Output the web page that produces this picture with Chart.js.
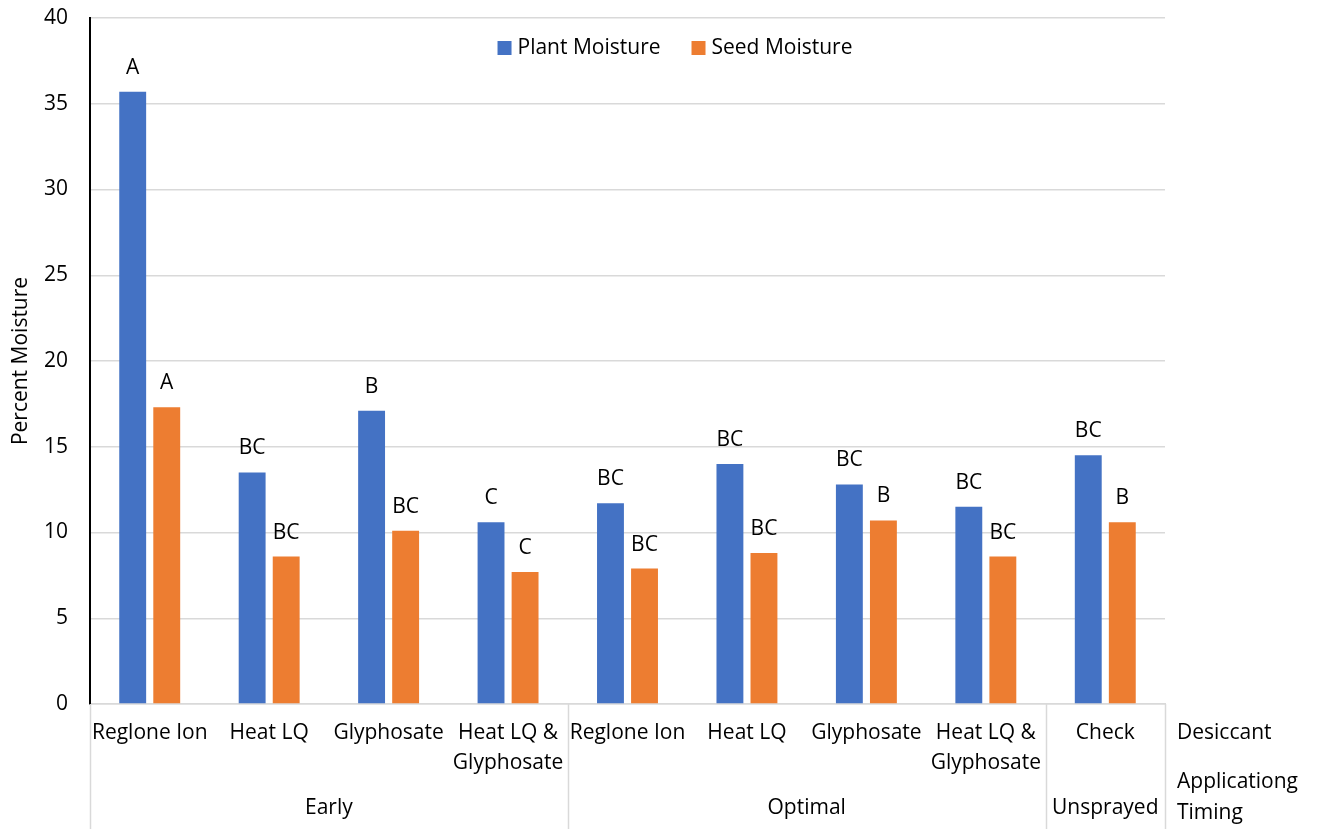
<!DOCTYPE html>
<html>
<head>
<meta charset="utf-8">
<script src="https://cdn.jsdelivr.net/npm/chart.js@4.4.0/dist/chart.umd.min.js"></script>
<style>
  html, body { margin: 0; padding: 0; background: #fff; }
  #wrap { width: 1323px; height: 829px; }
</style>
</head>
<body>
<div id="wrap"><canvas id="myChart"></canvas></div>
<script>
// desiccant (first level category), multi-line labels
const desiccants = [
  ['Reglone Ion'], ['Heat LQ'], ['Glyphosate'], ['Heat LQ &', 'Glyphosate'],
  ['Reglone Ion'], ['Heat LQ'], ['Glyphosate'], ['Heat LQ &', 'Glyphosate'],
  ['Check']
];
// application timing (second level)
const timings = ['Early', 'Optimal', 'Unsprayed'];
const timingSpans = [4, 4, 1];
const levelNames = [['Desiccant'], ['Applicationg', 'Timing']];

const plantMoisture = [35.7, 13.5, 17.1, 10.6, 11.7, 14.0, 12.8, 11.5, 14.5];
const seedMoisture  = [17.3, 8.6, 10.1, 7.7, 7.9, 8.8, 10.7, 8.6, 10.6];
const plantLetters = ['A', 'BC', 'B', 'C', 'BC', 'BC', 'BC', 'BC', 'BC'];
const seedLetters  = ['A', 'BC', 'BC', 'C', 'BC', 'BC', 'B', 'BC', 'B'];

const FONT = '"Open Sans", sans-serif';
const ctx = document.getElementById('myChart');

const extras = {
  id: 'extras',
  afterDraw(chart) {
    const c = chart.ctx;
    const area = chart.chartArea;
    const xs = chart.scales.x;
    c.save();
    c.font = '21px ' + FONT;
    c.fillStyle = '#000';
    c.textAlign = 'center';
    c.textBaseline = 'alphabetic';

    // letters above bars
    const letterSets = [plantLetters, seedLetters];
    letterSets.forEach((letters, d) => {
      chart.getDatasetMeta(d).data.forEach((bar, i) => {
        c.fillText(letters[i], bar.x, bar.y - 18);
      });
    });

    // desiccant labels
    c.textBaseline = 'middle';
    desiccants.forEach((lines, i) => {
      const x = xs.getPixelForValue(i);
      lines.forEach((t, k) => c.fillText(t, x, 733 + k * 30));
    });

    // group separators + timing labels
    const bounds = [area.left];
    let idx = 0;
    timingSpans.forEach(n => {
      idx += n;
      if (idx < desiccants.length) {
        bounds.push((xs.getPixelForValue(idx - 1) + xs.getPixelForValue(idx)) / 2);
      } else {
        bounds.push(area.right);
      }
    });
    c.strokeStyle = '#d9d9d9';
    c.lineWidth = 1.5;
    bounds.forEach(b => {
      c.beginPath();
      c.moveTo(Math.round(b) + 0.5, area.bottom);
      c.lineTo(Math.round(b) + 0.5, chart.height);
      c.stroke();
    });
    timings.forEach((t, g) => {
      c.fillText(t, (bounds[g] + bounds[g + 1]) / 2, 808);
    });

    // level names at right
    c.textAlign = 'left';
    c.fillText(levelNames[0][0], area.right + 12, 733);
    levelNames[1].forEach((t, k) => c.fillText(t, area.right + 12, 782 + k * 31));

    // legend
    const boxSize = 14;
    const items = chart.data.datasets.map(ds => ({
      label: ds.label, color: ds.backgroundColor, w: c.measureText(ds.label).width
    }));
    const gapBox = 6, gapItem = 31;
    let total = 0;
    items.forEach((it, k) => { total += boxSize + gapBox + it.w + (k ? gapItem : 0); });
    let x = 675 - total / 2;
    const ly = 48;
    items.forEach(it => {
      c.fillStyle = it.color;
      c.fillRect(x, ly - boxSize / 2, boxSize, boxSize);
      c.fillStyle = '#000';
      c.fillText(it.label, x + boxSize + gapBox, ly);
      x += boxSize + gapBox + it.w + gapItem;
    });
    c.restore();
  }
};

new Chart(ctx, {
  type: 'bar',
  data: {
    labels: desiccants.map(l => l.join(' ')),
    datasets: [
      { label: 'Plant Moisture', data: plantMoisture, backgroundColor: '#4472C4' },
      { label: 'Seed Moisture', data: seedMoisture, backgroundColor: '#ED7D31' }
    ]
  },
  options: {
    responsive: true,
    maintainAspectRatio: false,
    animation: false,
    layout: { padding: { top: 18, right: 158, bottom: 117, left: 0 } },
    datasets: { bar: { categoryPercentage: 0.57, barPercentage: 0.79 } },
    plugins: { legend: { display: false }, tooltip: { enabled: false } },
    scales: {
      x: {
        ticks: { display: false },
        grid: { display: false },
        border: { color: '#d9d9d9', width: 1.5 }
      },
      y: {
        min: 0, max: 40,
        ticks: { stepSize: 5, padding: 22, color: '#000', font: { family: FONT, size: 21 } },
        grid: { color: '#d9d9d9', lineWidth: 1.5, drawTicks: false },
        border: { color: '#000', width: 2 },
        title: {
          display: true, text: 'Percent Moisture', color: '#000',
          font: { family: FONT, size: 21 }, padding: { top: 8, bottom: 0 }
        },
        afterFit(scale) {
          scale.width = 90;
          scale.paddingTop = 0;
          scale.paddingBottom = 0;
        }
      }
    }
  },
  plugins: [extras]
});
</script>
</body>
</html>
